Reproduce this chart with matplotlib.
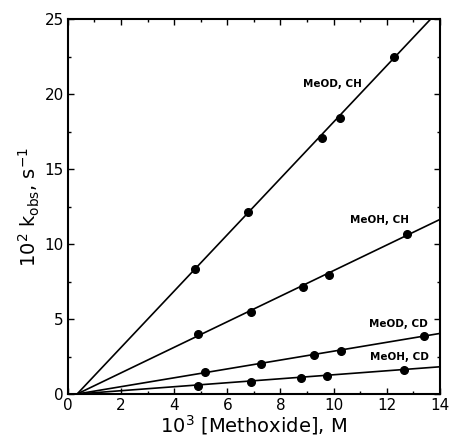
import numpy as np
import matplotlib
matplotlib.use("Agg")
import matplotlib.pyplot as plt
from matplotlib.ticker import MultipleLocator

plt.rcParams['font.family'] = ['DejaVu Sans']
plt.rcParams['mathtext.fontset'] = 'dejavusans'

# data: x = 10^3 [Methoxide] (M), y = 10^2 k_obs (s^-1)
x_meod_ch = [4.77, 6.79, 9.56, 10.24, 12.27]
y_meod_ch = [8.35, 12.13, 17.07, 18.38, 22.45]
x_meoh_ch = [4.89, 6.90, 8.84, 9.81, 12.75]
y_meoh_ch = [3.98, 5.49, 7.11, 7.93, 10.69]
x_meod_cd = [5.16, 7.25, 9.27, 10.29, 13.41]
y_meod_cd = [1.47, 1.98, 2.60, 2.89, 3.87]
x_meoh_cd = [4.89, 6.90, 8.77, 9.76, 12.66]
y_meoh_cd = [0.56, 0.82, 1.09, 1.22, 1.60]

# fitted lines: y = slope * (x - x0)
x0 = 0.35
slopes = [1.88, 0.853, 0.296, 0.133]
labels = ["MeOD, CH", "MeOH, CH", "MeOD, CD", "MeOH, CD"]
label_pos = [(9.97, 20.7), (11.74, 11.6), (12.43, 4.64), (12.49, 2.44)]

series = [(x_meod_ch, y_meod_ch), (x_meoh_ch, y_meoh_ch),
          (x_meod_cd, y_meod_cd), (x_meoh_cd, y_meoh_cd)]

fig = plt.figure(figsize=(4.49, 4.44), dpi=100)
ax = fig.add_axes([0.151, 0.1126, 0.829, 0.8444])

xf = np.linspace(x0, 14, 50)
for (xs, ys), k, lab, pos in zip(series, slopes, labels, label_pos):
    ax.plot(xf, k * (xf - x0), color='black', lw=1.2)
    ax.plot(xs, ys, 'o', color='black', ms=5.5)
    ax.text(pos[0], pos[1], lab, fontsize=7.5, fontweight='bold',
            ha='center', va='center')

ax.set_xlim(0, 14)
ax.set_ylim(0, 25)
ax.xaxis.set_major_locator(MultipleLocator(2))
ax.xaxis.set_minor_locator(MultipleLocator(1))
ax.yaxis.set_major_locator(MultipleLocator(5))
ax.yaxis.set_minor_locator(MultipleLocator(2.5))
ax.tick_params(which='both', direction='in', top=True, right=True,
               labelsize=11, width=1.0)
ax.tick_params(which='major', length=4, pad=3)
ax.tick_params(which='minor', length=2.5)
for s in ax.spines.values():
    s.set_linewidth(1.5)

ax.set_xlabel(r"10$^3$ [Methoxide], M", fontsize=14, labelpad=0)
ax.set_ylabel(r"10$^2$ k$_{\mathrm{obs}}$, s$^{-1}$", fontsize=14, labelpad=2)

fig.savefig("out.png", dpi=100)
